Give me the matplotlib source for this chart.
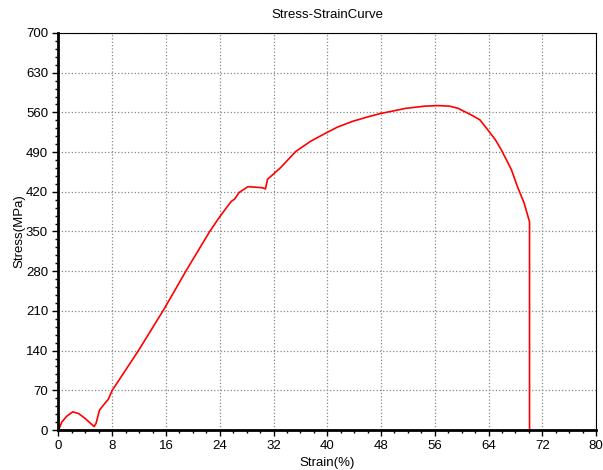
import matplotlib.pyplot as plt
from matplotlib.ticker import MultipleLocator

# Data
strain = [0, 0.5, 1.2, 2.1, 3.0, 4.0, 5.3, 5.6, 6.1, 6.7, 7.4, 8.0, 11.9, 15.8,
          19.0, 22.5, 24.0, 25.0, 25.7, 26.2, 26.9, 28.2, 29.5, 30.4, 30.8,
          31.1, 33.0, 35.3, 37.5, 39.7, 41.5, 43.7, 46.0, 47.9, 50.0, 51.6,
          54.5, 56.5, 58.2, 59.5, 60.5, 61.5, 62.7, 63.9, 65.0, 65.9, 67.4,
          68.3, 69.3, 70.1, 70.1]
stress = [0, 14, 24, 32, 29, 20, 6, 12, 35, 44, 54, 70, 140, 215,
          281, 350, 376, 392, 403, 407, 419, 429, 428, 427, 425,
          442, 462, 491, 509, 523, 534, 544, 552, 558, 563, 567,
          571, 572, 571, 567, 561, 555, 547, 529, 512, 494, 459,
          429, 400, 367, 0]

fonts = ['Liberation Sans', 'DejaVu Sans']
plt.rcParams['font.family'] = fonts

fig = plt.figure(figsize=(6.03, 4.70), dpi=100)
ax = fig.add_axes([0.097, 0.0851, 0.8915, 0.8447])

ax.plot(strain, stress, color='red', linewidth=1.2)

ax.set_xlim(0, 80)
ax.set_ylim(0, 700)
ax.xaxis.set_major_locator(MultipleLocator(8))
ax.xaxis.set_minor_locator(MultipleLocator(2))
ax.yaxis.set_major_locator(MultipleLocator(70))
ax.yaxis.set_minor_locator(MultipleLocator(14))
ax.tick_params(labelsize=9.5, length=4, width=1)
ax.tick_params(which='minor', length=2, width=1)

ax.grid(True, linestyle=':', color='#888888', linewidth=0.9)
ax.spines['left'].set_linewidth(2)
ax.spines['bottom'].set_linewidth(2)
ax.spines['top'].set_linewidth(0.8)
ax.spines['right'].set_linewidth(0.8)

ax.set_title('Stress-StrainCurve', fontsize=9.5, pad=11)
ax.set_xlabel('Strain(%)', fontsize=9.5, labelpad=3)
ax.set_ylabel('Stress(MPa)', fontsize=9.5, labelpad=0)

fig.savefig('out.png', dpi=100)
